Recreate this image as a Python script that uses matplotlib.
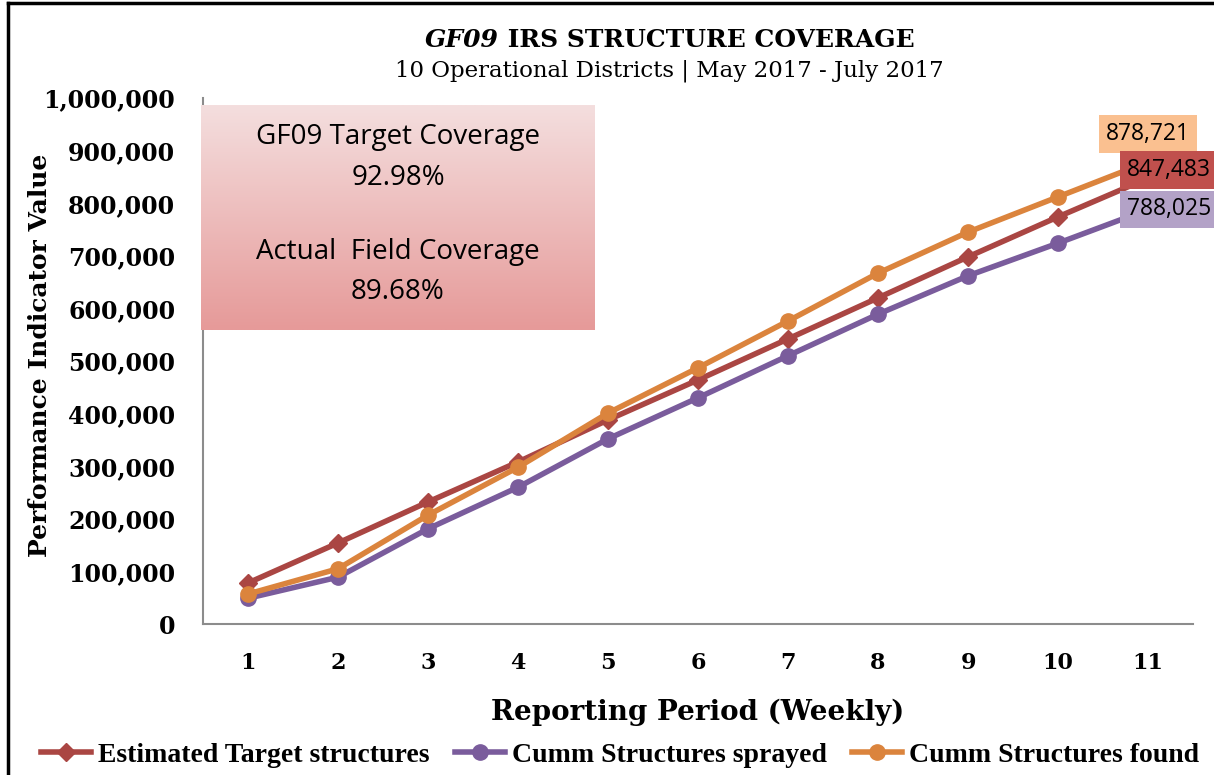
import numpy as np
import matplotlib
matplotlib.use('Agg')
import matplotlib.pyplot as plt
from matplotlib.colors import LinearSegmentedColormap

# data
periods = [1, 2, 3, 4, 5, 6, 7, 8, 9, 10, 11]
target = [78000, 154000, 232000, 308000, 388000, 464000, 542000, 620000, 698000, 774000, 847483]
sprayed = [49000, 89000, 181000, 260000, 352000, 430000, 510000, 589000, 662000, 724000, 788025]
found = [57000, 105000, 207000, 298000, 401000, 487000, 576000, 667000, 745000, 812000, 878721]
y_ticks = [0, 100000, 200000, 300000, 400000, 500000, 600000, 700000, 800000, 900000, 1000000]

red = '#AA4643'
purple = '#7A5C9C'
orange = '#DB843D'

serif = ['DejaVu Serif']
legserif = ['Liberation Serif', 'DejaVu Serif']

fig = plt.figure(figsize=(12.14, 7.75), dpi=100)
ax = fig.add_axes([203/1214, (775-624)/775, 990/1214, 526/775])

ax.plot(periods, target, color=red, lw=4, marker='D', ms=9, label='Estimated Target structures', zorder=3)
ax.plot(periods, sprayed, color=purple, lw=4, marker='o', ms=11, label='Cumm Structures sprayed', zorder=3)
ax.plot(periods, found, color=orange, lw=4, marker='o', ms=11, label='Cumm Structures found', zorder=4)

ax.set_xlim(0.5, 11.5)
ax.set_ylim(0, 1000000)
ax.set_yticks(y_ticks)
ax.set_yticklabels([f'{v:,}' for v in y_ticks], fontsize=17, fontweight='bold', family=serif)
ax.set_xticks(periods)
ax.set_xticklabels([str(p) for p in periods], fontsize=16, fontweight='bold', family=serif)
ax.tick_params(length=0, pad=20)
ax.tick_params(axis='x', pad=20)
for s in ['top', 'right']:
    ax.spines[s].set_visible(False)
for s in ['left', 'bottom']:
    ax.spines[s].set_color('#8c8c8c')
    ax.spines[s].set_linewidth(1.5)

ax.set_ylabel('Performance Indicator Value', fontsize=18, fontweight='bold', family=serif)
ax.yaxis.set_label_coords(-0.153, 0.51)
ax.set_xlabel('Reporting Period (Weekly)', fontsize=20, fontweight='bold', family=serif, labelpad=18)

# end-point data labels
lab_kw = dict(textcoords='offset pixels', fontsize=16.5, family='Open Sans', va='center', ha='left',
              annotation_clip=False, zorder=6)
ax.annotate(f'{found[-1]:,}', (periods[-1], found[-1]), xytext=(-42, 28),
            bbox=dict(boxstyle='square,pad=0.3', fc='#FAC090', ec='none'), **lab_kw)
ax.annotate(f'{target[-1]:,}', (periods[-1], target[-1]), xytext=(-21, 8),
            bbox=dict(boxstyle='square,pad=0.3', fc='#C0504D', ec='none'), **lab_kw)
ax.annotate(f'{sprayed[-1]:,}', (periods[-1], sprayed[-1]), xytext=(-21, 0),
            bbox=dict(boxstyle='square,pad=0.3', fc='#B3A2C7', ec='none'), **lab_kw)

# gradient coverage box
bx = fig.add_axes([201/1214, (775-330)/775, 394/1214, 225/775])
cmap = LinearSegmentedColormap.from_list('g', ['#F4DEDE', '#E69A99'])
bx.imshow(np.linspace(0, 1, 100).reshape(-1, 1), cmap=cmap, aspect='auto', extent=[0, 1, 0, 1])
bx.set_xlim(0, 1)
bx.set_ylim(0, 1)
bx.axis('off')
for yy, txt in zip([0.858, 0.676, 0.347, 0.169],
                   ['GF09 Target Coverage', '92.98%', 'Actual  Field Coverage', '89.68%']):
    bx.text(0.5, yy, txt, ha='center', va='center', fontsize=20, family='Open Sans')

# title: italic part + bold part, centred together
t1 = fig.text(0, 1 - 40/775, 'GF09', ha='left', va='center', fontsize=18, fontweight='bold',
              style='italic', family=serif)
t2 = fig.text(0, 1 - 40/775, ' IRS STRUCTURE COVERAGE', ha='left', va='center', fontsize=18,
              fontweight='bold', family=serif)
fig.canvas.draw()
r = fig.canvas.get_renderer()
w1 = t1.get_window_extent(r).width
w2 = t2.get_window_extent(r).width
x0 = 670 - (w1 + w2) / 2
t1.set_x(x0 / 1214)
t2.set_x((x0 + w1) / 1214)
fig.text(669/1214, 1 - 71/775, '10 Operational Districts | May 2017 - July 2017', ha='center', va='center',
         fontsize=16.5, family=serif)

# legend
leg = fig.legend(loc='center', bbox_to_anchor=(620/1214, 1 - 755/775), ncol=3, frameon=False,
                 prop={'family': legserif, 'weight': 'bold', 'size': 20}, handlelength=1.8,
                 columnspacing=0.9, handletextpad=0.25)

# figure border (left and top)
fig.add_artist(plt.Line2D([8/1214, 8/1214], [0, 1 - 3/775], color='black', lw=2.5, transform=fig.transFigure))
fig.add_artist(plt.Line2D([8/1214, 1], [1 - 3/775, 1 - 3/775], color='black', lw=2.5, transform=fig.transFigure))

fig.savefig('out.png', dpi=100)
